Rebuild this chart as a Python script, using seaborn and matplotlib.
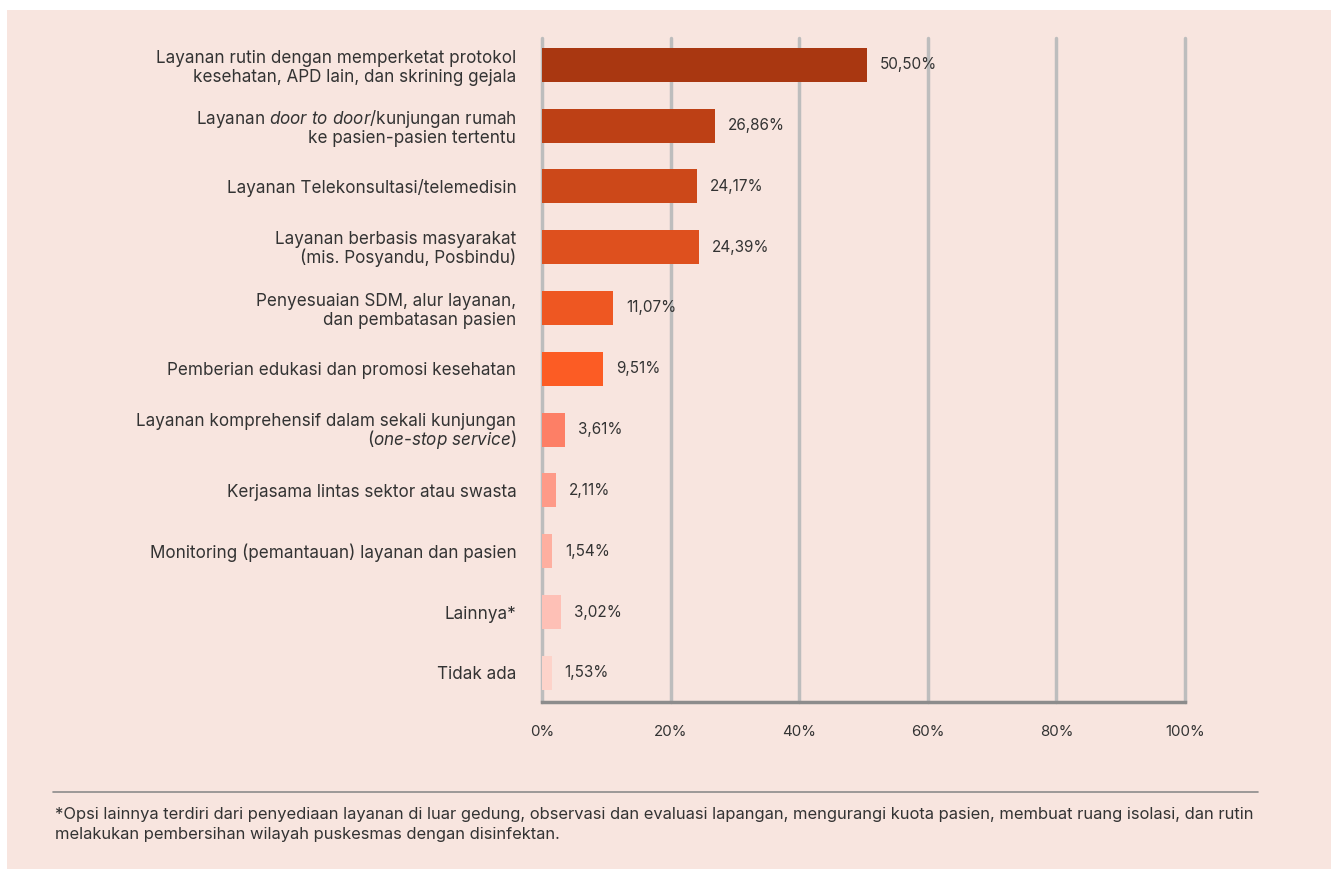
import matplotlib
matplotlib.use("Agg")
import matplotlib.pyplot as plt
import seaborn as sns
import pandas as pd
from matplotlib.patches import Rectangle
from matplotlib.lines import Line2D

categories = [
    "Layanan rutin dengan memperketat protokol\nkesehatan, APD lain, dan skrining gejala",
    "Layanan $\\it{door\\ to\\ door}$/kunjungan rumah\nke pasien-pasien tertentu",
    "Layanan Telekonsultasi/telemedisin",
    "Layanan berbasis masyarakat\n(mis. Posyandu, Posbindu)",
    "Penyesuaian SDM, alur layanan,\ndan pembatasan pasien",
    "Pemberian edukasi dan promosi kesehatan",
    "Layanan komprehensif dalam sekali kunjungan\n($\\it{one}$-$\\it{stop\\ service}$)",
    "Kerjasama lintas sektor atau swasta",
    "Monitoring (pemantauan) layanan dan pasien",
    "Lainnya*",
    "Tidak ada",
]
values = [50.50, 26.86, 24.17, 24.39, 11.07, 9.51, 3.61, 2.11, 1.54, 3.02, 1.53]
value_labels = ["50,50%", "26,86%", "24,17%", "24,39%", "11,07%", "9,51%",
                "3,61%", "2,11%", "1,54%", "3,02%", "1,53%"]
colors = ["#A93711", "#BD4015", "#CC4819", "#DE501E", "#EE5722", "#FC5C24",
          "#FD7F66", "#FE9A88", "#FEAFA0", "#FEC0B6", "#FDD3CA"]
x_ticks = [0, 20, 40, 60, 80, 100]
x_ticklabels = ["0%", "20%", "40%", "60%", "80%", "100%"]
footnote = ("*Opsi lainnya terdiri dari penyediaan layanan di luar gedung, observasi dan evaluasi lapangan, "
            "mengurangi kuota pasien, membuat ruang isolasi, dan rutin\n"
            "melakukan pembersihan wilayah puskesmas dengan disinfektan.")

sns.set_theme(style="white")
FONT = "Inter"
plt.rcParams["font.family"] = [FONT, "DejaVu Sans"]
plt.rcParams["mathtext.fontset"] = "custom"
plt.rcParams["mathtext.it"] = FONT + ":italic"
plt.rcParams["mathtext.rm"] = FONT

BG = "#F8E5DF"
TXT = "#333333"

fig = plt.figure(figsize=(13.31, 8.69), dpi=100)
fig.patch.set_facecolor("white")
fig.add_artist(Rectangle((7 / 1331, 0), 1 - 7 / 1331, 1 - 10 / 869,
                         transform=fig.transFigure, facecolor=BG, edgecolor="none", zorder=-10))

ax = fig.add_axes([542 / 1331, 1 - 702 / 869, (1185 - 542) / 1331, (702 - 38) / 869])
ax.set_facecolor("none")

df = pd.DataFrame({"cat": categories, "val": values})
sns.barplot(data=df, x="val", y="cat", hue="cat", palette=colors, legend=False,
            width=0.56, orient="h", ax=ax, saturation=1, zorder=3, linewidth=0)

ax.set_xlim(0, 100)
ax.set_ylim(10.48, -0.44)
ax.set_xlabel("")
ax.set_ylabel("")
ax.set_xticks(x_ticks)
ax.set_xticklabels(x_ticklabels)
for x in x_ticks:
    ax.axvline(x, color="#BDBDBD", lw=2.5, zorder=1, clip_on=False)
for s in ["top", "right", "left"]:
    ax.spines[s].set_visible(False)
ax.spines["bottom"].set_color("#8C8C8C")
ax.spines["bottom"].set_linewidth(2.5)
ax.spines["bottom"].set_zorder(4)
ax.tick_params(axis="x", length=0, pad=16.5, labelsize=10.8, labelcolor=TXT)
ax.tick_params(axis="y", length=0, pad=18.5, labelsize=12.3, labelcolor=TXT)
for lbl in ax.get_yticklabels():
    lbl.set_multialignment("right")
    txt = lbl.get_text()
    if "one" in txt and "$" in txt:
        lbl.set_linespacing(0.92)
    elif "door" in txt:
        lbl.set_linespacing(1.03)
    elif "Posyandu" in txt:
        lbl.set_linespacing(1.02)
    else:
        lbl.set_linespacing(1.18)

for i, (v, t) in enumerate(zip(values, value_labels)):
    ax.text(v + 2.0, i, t, va="center", ha="left", fontsize=11, color=TXT, zorder=5)

fig.add_artist(Line2D([53 / 1331, 1258 / 1331], [1 - 792 / 869] * 2,
                      transform=fig.transFigure, color="#8C8C8C", lw=1.2))
fig.text(55 / 1331, 1 - 806.5 / 869, footnote, ha="left", va="top", fontsize=11.9,
         color=TXT, linespacing=1.5)

fig.savefig("out.png", dpi=100, facecolor=fig.get_facecolor())
